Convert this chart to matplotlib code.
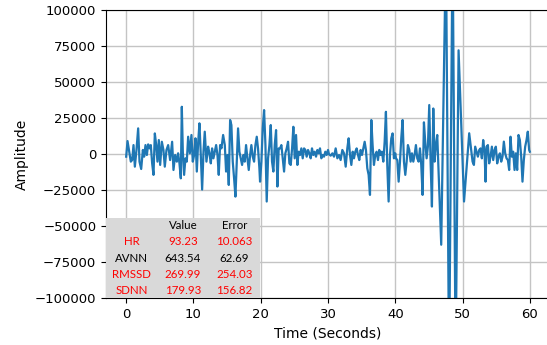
import matplotlib
matplotlib.use("Agg")
import matplotlib.pyplot as plt
import numpy as np

# ---- signal data (time in seconds, amplitude) ----
t_seg1 = [0.00, 0.20, 0.45, 0.69, 0.89, 1.09, 1.29, 1.53, 1.78, 1.98, 2.23, 2.48, 2.67, 2.87, 3.07,
          3.27, 3.47, 3.66, 3.86, 4.06, 4.26, 4.46, 4.65, 4.85, 5.05, 5.30, 5.54, 5.74, 5.99, 6.24,
          6.53, 6.83, 7.03, 7.28, 7.53, 7.72, 7.92, 8.12, 8.27, 8.42, 8.61, 8.81, 9.01]
v_seg1 = [-1850, 9000, 1600, -5300, -4200, 6200, -8800, 2800, 17800, -5300, -10400, 2800, -1850, 6200, -700,
          6700, 3900, 6200, -6500, -14500, 14300, 6200, -5300, 9700, -7600, 8500, 2800, -8800, 2800, 6200,
          -4200, 8500, -11100, -700, -5300, 500, -6500, -16900, 32800, 1600, -14500, -3000, -5300]

t_seg2 = [9.21, 9.46, 9.70, 9.90, 10.10, 10.30, 10.50, 10.69, 10.89, 11.09, 11.29, 11.49, 11.68, 11.93,
          12.18, 12.38, 12.58, 12.77, 12.97, 13.17, 13.37, 13.57, 13.76, 13.96, 14.16, 14.41, 14.66, 14.85,
          15.05, 15.25, 15.45, 15.64, 15.84, 16.04, 16.24, 16.44, 16.63, 16.83, 17.03, 17.23, 17.43, 17.62,
          17.82, 18.02, 18.22, 18.42, 18.61, 18.81, 19.01, 19.21, 19.41, 19.60, 19.80]
v_seg2 = [12000, 460, 13200, -5300, -700, 10900, -12200, 7400, 21300, -700, -24700, 1600, 15500, -5300,
          5100, 460, -6500, 3900, -3000, 1600, 6200, -700, -14500, 6200, 3900, 13200, 6200, -12200,
          -700, -21500, 23600, 20100, -5300, -16900, -29600, -5300, 17800, 1600, -3000, -7600, -700, -5300,
          6200, -3000, -11100, -700, 6200, -1850, -5300, 6200, 12000, 3900, -9900]

t_seg3 = [19.90, 20.10, 20.30, 20.50, 20.70, 20.89, 21.09, 21.29, 21.49, 21.68, 21.88, 22.08, 22.28,
          22.48, 22.67, 22.87, 23.07, 23.27, 23.47, 23.66, 23.86, 24.06, 24.26, 24.46, 24.66, 24.85,
          25.05, 25.25, 25.45, 25.64, 25.84, 26.04, 26.24, 26.44, 26.63, 26.83, 27.03, 27.23, 27.43,
          27.62, 27.82, 28.02, 28.22, 28.42, 28.61, 28.81, 29.01, 29.21, 29.41, 29.60, 29.80, 30.00]
v_seg3 = [-19200, -5300, 17800, 30500, 6200, -33000, -3000, 6200, 20100, -5300, -12200, 6200, 16600,
          -22600, 3900, 3900, 6200, -3000, -12200, 460, 3900, 8500, -6500, -7600, 3900, 18900,
          -3000, 13200, -7600, 1600, -700, 3900, -3000, 3900, 2800, -1850, 2800, 460, -3000,
          3900, -700, 1600, -1850, 2800, 460, 3900, -3000, -700, -1850, 1600, -700, 2800]

t_seg4 = [30.15, 30.40, 30.65, 30.89, 31.14, 31.39, 31.64, 31.88, 32.13, 32.38, 32.63, 32.87, 33.07,
          33.27, 33.47, 33.67, 33.86, 34.06, 34.26, 34.46, 34.65, 34.85, 35.05, 35.25, 35.45, 35.64,
          35.84, 36.04, 36.24, 36.44, 36.63, 36.83, 37.03, 37.23, 37.43, 37.62, 37.82, 38.02, 38.22,
          38.42, 38.61, 38.81, 39.01, 39.21, 39.41, 39.60, 39.80, 40.00]
v_seg4 = [-230, -1150, 460, -1850, 3900, -3000, -700, -4200, 2800, 460, -8800, 3900, 10900,
          -700, -7600, 1600, -3000, 1600, 3900, -700, -4200, 2800, -700, 3900, 8500, 2800,
          -9900, -14500, -28400, 23600, 6200, -7600, -700, 1600, -4200, 2800, -700, 1600, -5300,
          8500, 29300, -7600, -33000, -700, 10900, 14300, -3000, 460]

t_seg5 = [40.10, 40.30, 40.50, 40.70, 40.89, 41.09, 41.29, 41.49, 41.69, 41.88, 42.08, 42.28, 42.48,
          42.68, 42.87, 43.07, 43.27, 43.47, 43.67, 43.86, 44.06, 44.26, 44.46, 44.66, 44.85, 45.05,
          45.25, 45.45, 45.65, 45.84, 46.04, 46.24]
v_seg5 = [-3000, -4200, -19200, -5300, 10900, 23600, -5300, -14500, -5300, 6200, 2800, -5300, 460,
          -5300, -700, 6200, -3000, -5300, 3900, -7600, -28400, 22000, 8000, -3000, 5100, 34000,
          -5300, -36500, 31600, -5300, 6200, 13200]

t_seg6 = [46.83, 47.53, 48.00, 48.52, 48.97, 49.41, 50.22]
v_seg6 = [-63000, 145000, -150000, 150000, -145000, 72000, -33000]

t_seg7 = [50.99, 51.49, 51.69, 51.88, 52.08, 52.28, 52.48, 52.68, 52.87, 53.07, 53.27, 53.42, 53.57,
          53.77, 53.96, 54.16, 54.36, 54.56, 54.76, 54.95, 55.15, 55.35, 55.55, 55.75, 55.94, 56.14,
          56.34, 56.54, 56.74, 56.93, 57.13, 57.33, 57.53, 57.73, 57.92, 58.12, 58.32, 58.52, 58.72,
          58.91, 59.11, 59.31, 59.51, 59.70, 59.90, 60.00]
v_seg7 = [14400, -5300, -7600, 5100, 1600, -1850, 2800, 3900, -3000, 9700, 1600, -19200, 5100,
          6200, -6500, -1850, 5100, -4200, 2800, 5100, -6500, -1850, 460, -5300, -1850, 8600,
          460, -3000, -4200, -11100, 12000, -1850, 1600, -11100, 460, -11100, 13200, 9700, -1850,
          -19200, -4200, 5100, 9700, 15500, 2800, 1600]

# ---- table data ----
table_rows = ["HR", "AVNN", "RMSSD", "SDNN"]
table_values = ["93.23", "643.54", "269.99", "179.93"]
table_errors = ["10.063", "62.69", "254.03", "156.82"]
table_header = ["", "Value", "Error"]
red_rows = ["HR", "RMSSD", "SDNN"]

time_s = np.concatenate([t_seg1, t_seg2, t_seg3, t_seg4, t_seg5, t_seg6, t_seg7])
amplitude = np.concatenate([v_seg1, v_seg2, v_seg3, v_seg4, v_seg5, v_seg6, v_seg7])

plt.rcParams['font.size'] = 9.5
fig = plt.figure(figsize=(5.47, 3.45), dpi=100)
ax = fig.add_axes([106 / 547, 1 - 298 / 345, 444 / 547, 288 / 345])

ax.plot(time_s, amplitude, color='#1f77b4', linewidth=1.6, zorder=2)
ax.set_xlim(-3, 63)
ax.set_ylim(-100000, 100000)
ax.set_yticks(np.arange(-100000, 100001, 25000))
ax.set_xticks(np.arange(0, 61, 10))
ax.grid(True, color='#c4c4c4', linewidth=1.0)
ax.set_axisbelow(True)
ax.set_xlabel("Time (Seconds)", fontsize=10)
ax.set_ylabel("Amplitude", fontsize=10)

cell_text = [table_header] + [[r, v, e] for r, v, e in zip(table_rows, table_values, table_errors)]
cell_colours = [['#d9d9d9'] * 3 for _ in cell_text]
tbl = ax.table(cellText=cell_text, cellColours=cell_colours, cellLoc='center',
               bbox=[0, 0, 154 / 444, 80 / 288])
tbl.auto_set_font_size(False)
tbl.set_fontsize(8.3)
tbl.set_zorder(5)
for (r, c), cell in tbl.get_celld().items():
    cell.set_edgecolor('#d9d9d9')
    cell.set_linewidth(0)
    txt = cell.get_text()
    txt.set_fontfamily('Lato')
    if r >= 1 and table_rows[r - 1] in red_rows:
        txt.set_color('#ff0000')
    else:
        txt.set_color('black')

fig.savefig("out.png", dpi=100)
